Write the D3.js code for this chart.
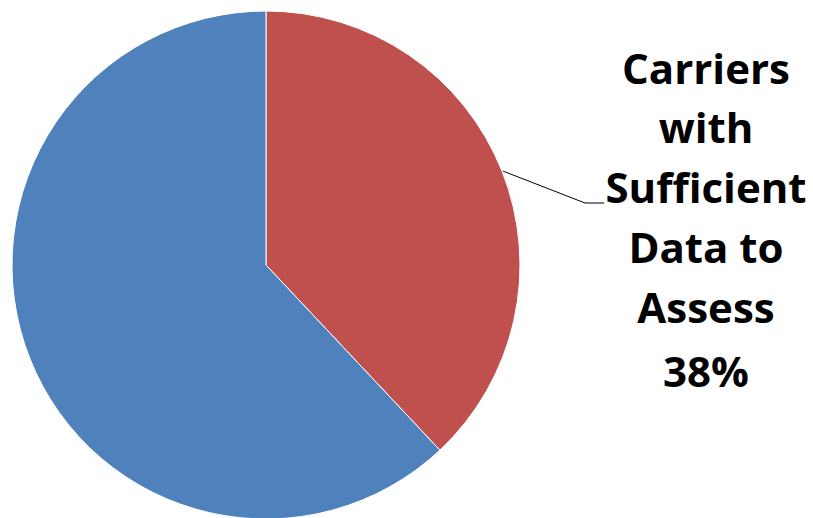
<!DOCTYPE html>
<html>
<head>
<meta charset="utf-8">
<script src="https://cdn.jsdelivr.net/npm/d3@7"></script>
<style>
html,body{margin:0;padding:0;background:#fff;}
svg{display:block;}
</style>
</head>
<body>
<svg id="chart" width="813" height="518"></svg>
<script>
const categories = ["Carriers with Sufficient Data to Assess", "Carriers without Sufficient Data"];
const values = [38, 62];
const labelLines = ["Carriers", "with", "Sufficient", "Data to", "Assess", "38%"];
const colors = ["#C0504D", "#4F81BD"];

const svg = d3.select("#chart");
const cx = 266, cy = 265, r = 254;
const g = svg.append("g").attr("transform", `translate(${cx},${cy})`);

const pie = d3.pie().sort(null).value(d => d)(values);
const arc = d3.arc().innerRadius(0).outerRadius(r);

g.selectAll("path").data(pie).enter().append("path")
  .attr("d", arc)
  .attr("fill", (d, i) => colors[i])
  .attr("stroke", "#ffffff")
  .attr("stroke-width", 1);

// leader line for first slice
const s = pie[0];
const mid = (s.startAngle + s.endAngle) / 2;
const p0 = [Math.sin(mid) * (r + 1), -Math.cos(mid) * (r + 1)];
const elbow = [585 - cx, 203 - cy];
const end = [604 - cx, 203 - cy];
g.append("polyline")
  .attr("points", [p0, elbow, end].map(p => p.join(",")).join(" "))
  .attr("fill", "none")
  .attr("stroke", "#000")
  .attr("stroke-width", 1);

const txt = svg.append("text")
  .attr("x", 706)
  .attr("text-anchor", "middle")
  .attr("font-family", "'Open Sans', 'Liberation Sans', sans-serif")
  .attr("font-weight", "bold")
  .attr("font-size", 42)
  .attr("fill", "#000");
const baselines = [84, 143, 203, 263, 323, 387];
labelLines.forEach((t, i) => {
  txt.append("tspan").attr("x", 706).attr("y", baselines[i]).text(t);
});
</script>
</body>
</html>
